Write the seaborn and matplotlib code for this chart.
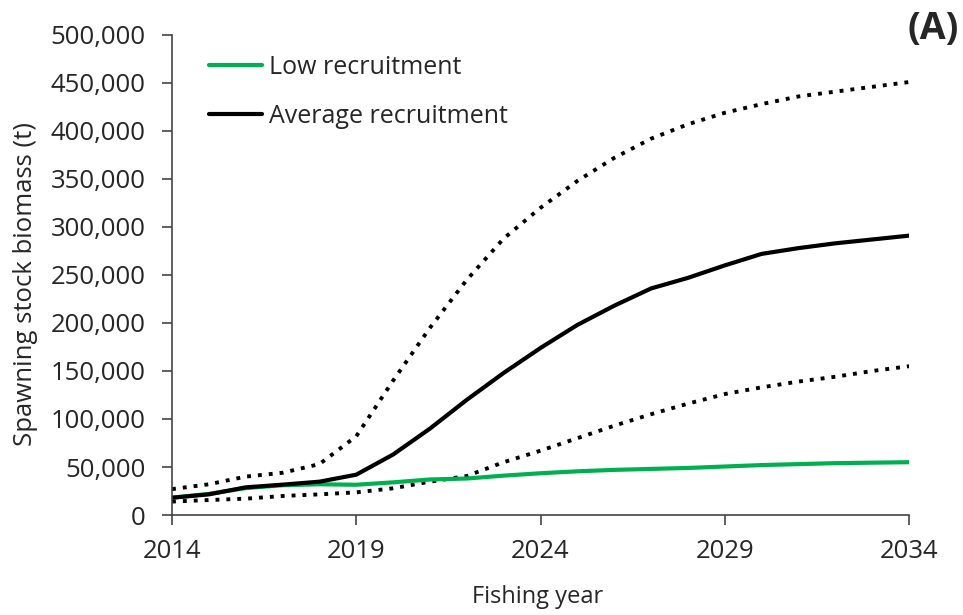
import matplotlib
matplotlib.use("Agg")
from matplotlib import pyplot as plt
from matplotlib.ticker import FuncFormatter
import pandas as pd
import seaborn as sns

# Прогноз биомассы нерестового запаса по годам
years = list(range(2014, 2035))
low_recruitment = [18000, 22000, 28000, 31000, 32000, 31500, 34000, 37000, 38000, 41000, 43500,
                   45500, 47000, 48000, 49000, 50500, 52000, 53000, 54000, 54500, 55000]
average_recruitment = [18000, 21500, 28800, 31600, 34700, 42000, 63000, 90000, 120000, 148000, 174000,
                       198000, 218000, 236000, 247000, 260000, 272000, 278000, 283000, 287000, 291000]
average_upper = [27000, 32000, 40000, 44000, 53000, 82000, 140000, 195000, 245000, 288000, 320000,
                 348000, 372000, 392000, 407000, 419000, 428000, 436000, 441000, 446000, 451000]
average_lower = [14000, 15600, 17000, 19800, 21500, 23600, 27800, 34700, 40600, 55000, 67000,
                 80000, 93000, 105000, 116000, 126000, 133000, 139000, 144000, 150000, 155000]

df = pd.DataFrame({
    'year': years,
    'low': low_recruitment,
    'avg': average_recruitment,
    'upper': average_upper,
    'lower': average_lower,
})

sns.set_style('ticks')
plt.rcParams['font.family'] = ['Open Sans', 'DejaVu Sans']

fig = plt.figure(figsize=(9.63, 6.15), dpi=100)
ax = fig.add_axes([0.1786, 0.1626, 0.7654, 0.7805])

# доверительные границы пунктиром
for col in ['upper', 'lower']:
    line = sns.lineplot(data=df, x='year', y=col, ax=ax, color='black', linewidth=2.8).lines[-1]
    line.set_dashes((1, 1.8))
sns.lineplot(data=df, x='year', y='low', ax=ax, color='#00B050', linewidth=3, label='Low recruitment')
sns.lineplot(data=df, x='year', y='avg', ax=ax, color='black', linewidth=3, label='Average recruitment')

ax.set_xlim(2014, 2034)
ax.set_ylim(0, 500000)
ax.set_xticks(range(2014, 2035, 5))
ax.set_yticks(range(0, 500001, 50000))
ax.yaxis.set_major_formatter(FuncFormatter(lambda v, p: f'{int(v):,}'))
ax.tick_params(axis='both', labelsize=18.5, length=7, width=1.2, color='#444444')
ax.tick_params(axis='y', pad=12)
ax.tick_params(axis='x', pad=10)
for side in ['left', 'bottom']:
    ax.spines[side].set_color('#444444')
    ax.spines[side].set_linewidth(1.2)
sns.despine(ax=ax)

ax.set_xlabel('Fishing year', fontsize=17)
ax.set_ylabel('Spawning stock biomass (t)', fontsize=18.5)
ax.xaxis.set_label_coords(0.496, -0.145)
ax.yaxis.set_label_coords(-0.182, 0.482)

ax.legend(loc='upper left', bbox_to_anchor=(0.02, 1.005), frameon=False, fontsize=18,
          handlelength=2.1, handletextpad=0.28, labelspacing=0.95)

fig.text(0.996, 0.953, '(A)', fontsize=27, fontweight='bold', ha='right', va='center')

plt.savefig('out.png', dpi=100)
